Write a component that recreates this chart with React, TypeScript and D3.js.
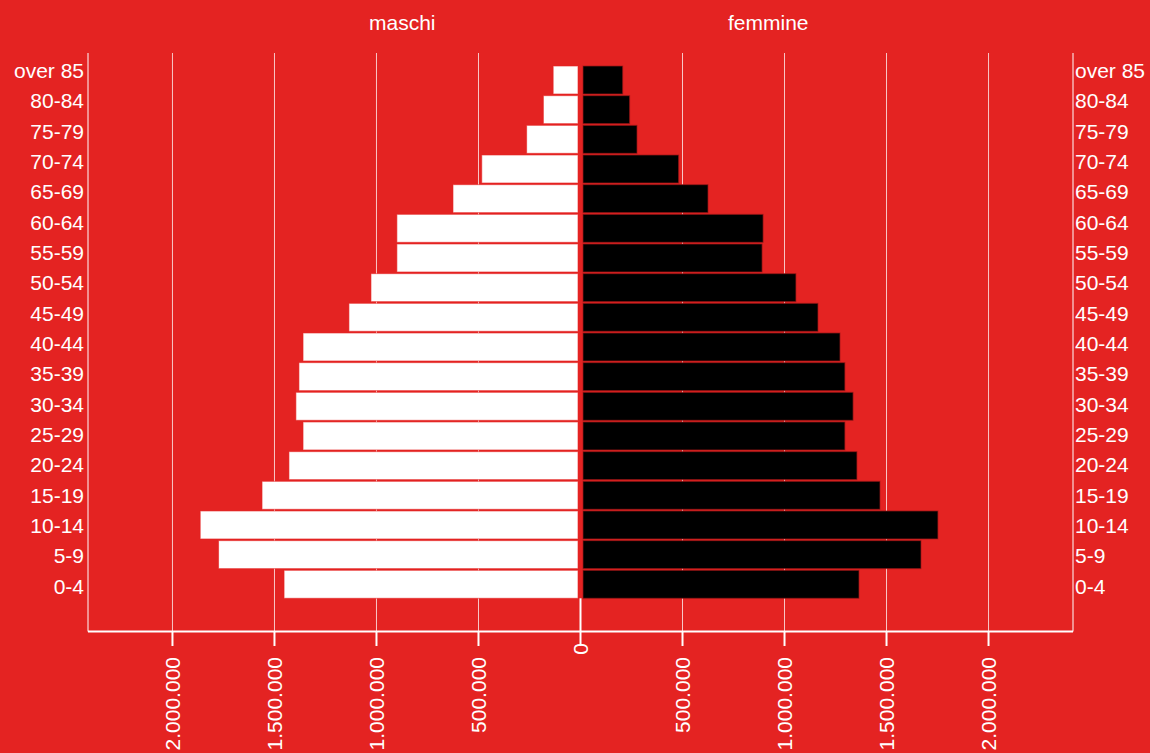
import React from "react";
import * as d3 from "d3";

// ---- data ----
const ageGroups = [
  "over 85", "80-84", "75-79", "70-74", "65-69", "60-64", "55-59", "50-54", "45-49",
  "40-44", "35-39", "30-34", "25-29", "20-24", "15-19", "10-14", "5-9", "0-4",
];
const maleValues = [
  134000, 182000, 264000, 484000, 625000, 900000, 900000, 1027000, 1135000,
  1360000, 1380000, 1395000, 1360000, 1429000, 1561000, 1864000, 1774000, 1453000,
];
const femaleValues = [
  207000, 241000, 277000, 481000, 625000, 895000, 890000, 1056000, 1164000,
  1272000, 1296000, 1336000, 1296000, 1355000, 1468000, 1752000, 1669000, 1365000,
];
const tickValues = [0, 500000, 1000000, 1500000, 2000000];
const seriesNames = ["maschi", "femmine"];

const W = 1150;
const H = 753;
const BG = "#e42322";
const FONT = "'Liberation Sans', Arial, Helvetica, sans-serif";
const FS = 21;

const itLocale = d3.formatLocale({ decimal: ",", thousands: ".", grouping: [3], currency: ["€", ""] });
const fmt = itLocale.format(",");

export default function App() {
  const cx = 580.5;
  const left = 88;
  const right = 1073;
  const top = 53;
  const bottom = 631.5;
  const maxDomain = 2414000;

  const xL = d3.scaleLinear().domain([0, maxDomain]).range([cx, left]);
  const xR = d3.scaleLinear().domain([0, maxDomain]).range([cx, right]);
  const y = d3.scaleBand<string>().domain(ageGroups).range([66, 598.3]).paddingInner(0.056).paddingOuter(0);
  const yLab = d3.scalePoint<string>().domain(ageGroups).range([70.5, 586]);
  const bw = y.bandwidth();
  const barsBottom = (y(ageGroups[ageGroups.length - 1]) as number) + bw;

  const gridTicks = tickValues.filter((v) => v > 0);

  return (
    <svg width={W} height={H} style={{ position: "fixed", left: 0, top: 0, display: "block" }} fontFamily={FONT}>
      <rect x={0} y={0} width={W} height={H} fill={BG} />

      {/* headers */}
      <text x={cx - 145} y={30} textAnchor="end" fill="#fff" fontSize={FS}>{seriesNames[0]}</text>
      <text x={cx + 147.5} y={30} textAnchor="start" fill="#fff" fontSize={FS}>{seriesNames[1]}</text>

      {/* grid lines */}
      {gridTicks.map((v) => (
        <g key={"g" + v}>
          <line x1={xL(v)} x2={xL(v)} y1={top} y2={bottom} stroke="#fff" strokeOpacity={0.75} strokeWidth={1} />
          <line x1={xR(v)} x2={xR(v)} y1={top} y2={bottom} stroke="#fff" strokeOpacity={0.75} strokeWidth={1} />
        </g>
      ))}
      {/* frame sides */}
      <line x1={left} x2={left} y1={top} y2={bottom} stroke="#fff" strokeWidth={1} />
      <line x1={right} x2={right} y1={top} y2={bottom} stroke="#fff" strokeWidth={1} />
      {/* zero line below bars */}
      <line x1={cx} x2={cx} y1={barsBottom} y2={bottom} stroke="#fff" strokeWidth={2} />

      {/* bars */}
      {ageGroups.map((a, i) => (
        <g key={a}>
          <rect
            x={xL(maleValues[i])}
            y={y(a)}
            width={xL(0) - 2.5 - xL(maleValues[i])}
            height={bw}
            fill="#fff"
            stroke={BG}
            strokeOpacity={0.6}
            strokeWidth={1}
          />
          <rect
            x={xR(0) + 2.5}
            y={y(a)}
            width={xR(femaleValues[i]) - xR(0) - 2.5}
            height={bw}
            fill="#000"
            stroke="#a01818"
            strokeOpacity={0.7}
            strokeWidth={1}
          />
        </g>
      ))}

      {/* category labels */}
      {ageGroups.map((a) => (
        <g key={"l" + a}>
          <text x={84} y={yLab(a)} dy="0.36em" textAnchor="end" fill="#fff" fontSize={FS}>{a}</text>
          <text x={1075} y={yLab(a)} dy="0.36em" textAnchor="start" fill="#fff" fontSize={FS}>{a}</text>
        </g>
      ))}

      {/* bottom axis */}
      <line x1={left} x2={right} y1={bottom} y2={bottom} stroke="#fff" strokeWidth={2} />
      {tickValues.map((v) => {
        const xs = v === 0 ? [xR(0)] : [xL(v), xR(v)];
        return xs.map((xx, j) => (
          <g key={"t" + v + "_" + j}>
            <line x1={xx} x2={xx} y1={bottom} y2={646} stroke="#fff" strokeWidth={2} />
            <text
              transform={`translate(${xx},${v === 0 ? 643 : 657}) rotate(-90)`}
              dy="0.36em"
              textAnchor="end"
              fill="#fff"
              fontSize={FS}
            >
              {fmt(v)}
            </text>
          </g>
        ));
      })}
    </svg>
  );
}
